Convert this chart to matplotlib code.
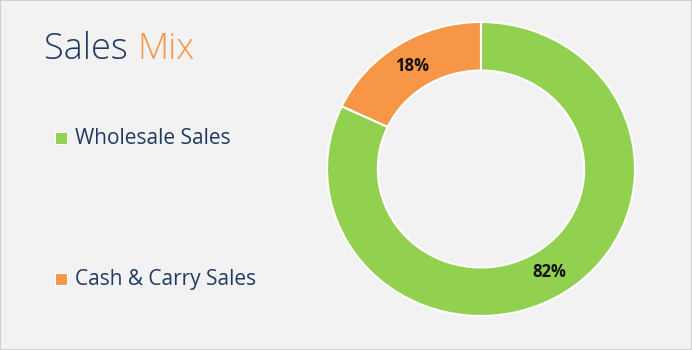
import matplotlib.pyplot as plt
from matplotlib.patches import Rectangle

labels = ["Wholesale Sales", "Cash & Carry Sales"]
shares = [82, 18]
colors = ["#92D050", "#F79646"]

navy = "#1F3A60"
bg = "#F2F2F2"

plt.rcParams["font.family"] = ["Open Sans", "DejaVu Sans"]

W, H = 692, 350
fig = plt.figure(figsize=(W / 100, H / 100), dpi=100)
fig.patch.set_facecolor(bg)

# thin border round the card
fig.patches.append(
    Rectangle((0, 0), 1, 1, transform=fig.transFigure,
              fill=False, edgecolor="#D0D0D0", linewidth=1.5)
)

# donut is a touch wider than tall in the reference:
# centre (481, 169) px, radius 154 px across, 147 px down
cx, cy = 481, 169
rx, ry = 154, 147
hx, hy = 160, 150
ax = fig.add_axes([
    (cx - hx) / W,
    (H - cy - hy) / H,
    2 * hx / W,
    2 * hy / H
])
ax.set_facecolor(bg)

# orange first so it runs from 12 o'clock counter-clockwise
vals = shares[::-1]
cols = colors[::-1]
wedges, texts, autotexts = ax.pie(
    vals,
    colors=cols,
    startangle=90,
    counterclock=True,
    radius=1.0,
    autopct="%d%%",
    pctdistance=0.83,
    wedgeprops=dict(width=0.33, edgecolor="white", linewidth=1.5),
    textprops=dict(fontsize=12, fontweight="bold", color="#111111"),
)
ax.set_aspect("auto")
ax.set_xlim(-hx / rx, hx / rx)
ax.set_ylim(-hy / ry, hy / ry)
ax.axis("off")

# title, two colours side by side
t = fig.text(44 / W, 1 - 59 / H, "Sales ", fontsize=26, color=navy,
             fontweight="light", va="baseline", ha="left")
fig.canvas.draw()
bb = t.get_window_extent()
fig.text(bb.x1 / W, 1 - 59 / H, "Mix", fontsize=26, color="#F79646",
         fontweight="light", va="baseline", ha="left")

# legend
legend_y = [144, 285]
for name, col, yb in zip(labels, colors, legend_y):
    fig.patches.append(
        Rectangle((55 / W, (H - yb) / H), 12 / W, 12 / H,
                  transform=fig.transFigure, facecolor=col,
                  edgecolor="white", linewidth=0.8)
    )
    fig.text(75 / W, 1 - yb / H, name, fontsize=15, color=navy,
             va="baseline", ha="left")

fig.savefig("out.png", dpi=100, facecolor=bg)
